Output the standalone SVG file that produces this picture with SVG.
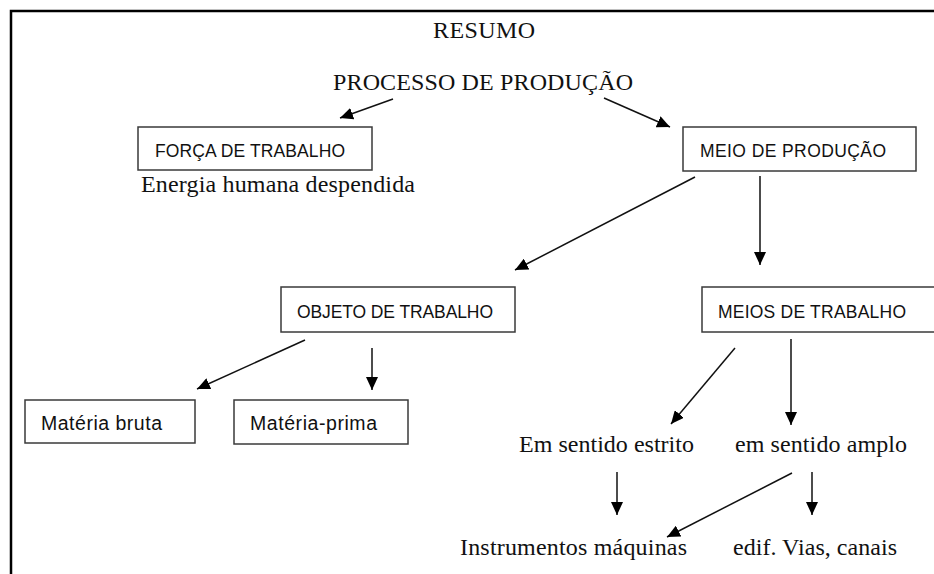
<svg xmlns="http://www.w3.org/2000/svg" width="934" height="574" viewBox="0 0 934 574">
<defs>
<marker id="ah" markerUnits="userSpaceOnUse" markerWidth="14" markerHeight="12" refX="13" refY="6" orient="auto">
<path d="M0,0 L13,6 L0,12 Z" fill="#000"/>
</marker>
<style>
.box{fill:#fff;stroke:#3a3a3a;stroke-width:1.5}
.sans{font-family:"Liberation Sans",Arial,sans-serif;font-size:17.5px;fill:#111}
.low{font-size:19.5px}
.serif{font-family:"Liberation Serif","Times New Roman",serif;font-size:24px;fill:#111}
.conn line{stroke:#111;stroke-width:1.5;marker-end:url(#ah)}
</style>
</defs>
<rect width="934" height="574" fill="#fff"/>
<path d="M11,574 V11 H934" fill="none" stroke="#000" stroke-width="2.5"/>
<g id="resumo"><text class="serif" x="433" y="38" textLength="102">RESUMO</text></g>
<g id="processo"><text class="serif" x="333" y="90" textLength="300">PROCESSO DE PRODUÇÃO</text></g>
<g id="forca">
<rect class="box" x="138" y="127" width="234" height="43"/>
<text class="sans" x="155" y="157" textLength="190">FORÇA DE TRABALHO</text>
</g>
<g id="energia"><text class="serif" x="141" y="192" textLength="274">Energia humana despendida</text></g>
<g id="meio">
<rect class="box" x="683" y="127" width="233" height="44"/>
<text class="sans" x="700" y="157" textLength="186">MEIO DE PRODUÇÃO</text>
</g>
<g id="objeto">
<rect class="box" x="281" y="287" width="234" height="45"/>
<text class="sans" x="297" y="318" textLength="196">OBJETO DE TRABALHO</text>
</g>
<g id="meios">
<rect class="box" x="702" y="287" width="240" height="45"/>
<text class="sans" x="718" y="318" textLength="188">MEIOS DE TRABALHO</text>
</g>
<g id="bruta">
<rect class="box" x="25" y="400" width="170" height="43"/>
<text class="sans low" x="41" y="430" textLength="121">Matéria bruta</text>
</g>
<g id="prima">
<rect class="box" x="234" y="400" width="174" height="44"/>
<text class="sans low" x="250" y="430" textLength="127">Matéria-prima</text>
</g>
<g id="estrito"><text class="serif" x="519" y="452" textLength="175">Em sentido estrito</text></g>
<g id="amplo"><text class="serif" x="735" y="452" textLength="172">em sentido amplo</text></g>
<g id="instrumentos"><text class="serif" x="460" y="555" textLength="227">Instrumentos máquinas</text></g>
<g id="edif"><text class="serif" x="733" y="555" textLength="164">edif. Vias, canais</text></g>
<g class="conn" id="connectors">
<line x1="393" y1="99" x2="340" y2="118"/>
<line x1="604" y1="98" x2="670" y2="127"/>
<line x1="695" y1="177" x2="515" y2="270"/>
<line x1="760" y1="176" x2="760" y2="265"/>
<line x1="305" y1="340" x2="197" y2="389"/>
<line x1="372" y1="348" x2="372" y2="390"/>
<line x1="735" y1="348" x2="671" y2="424"/>
<line x1="791" y1="339" x2="791" y2="425"/>
<line x1="617" y1="472" x2="617" y2="515"/>
<line x1="812" y1="472" x2="812" y2="515"/>
<line x1="792" y1="473" x2="667" y2="537"/>
</g>
</svg>
